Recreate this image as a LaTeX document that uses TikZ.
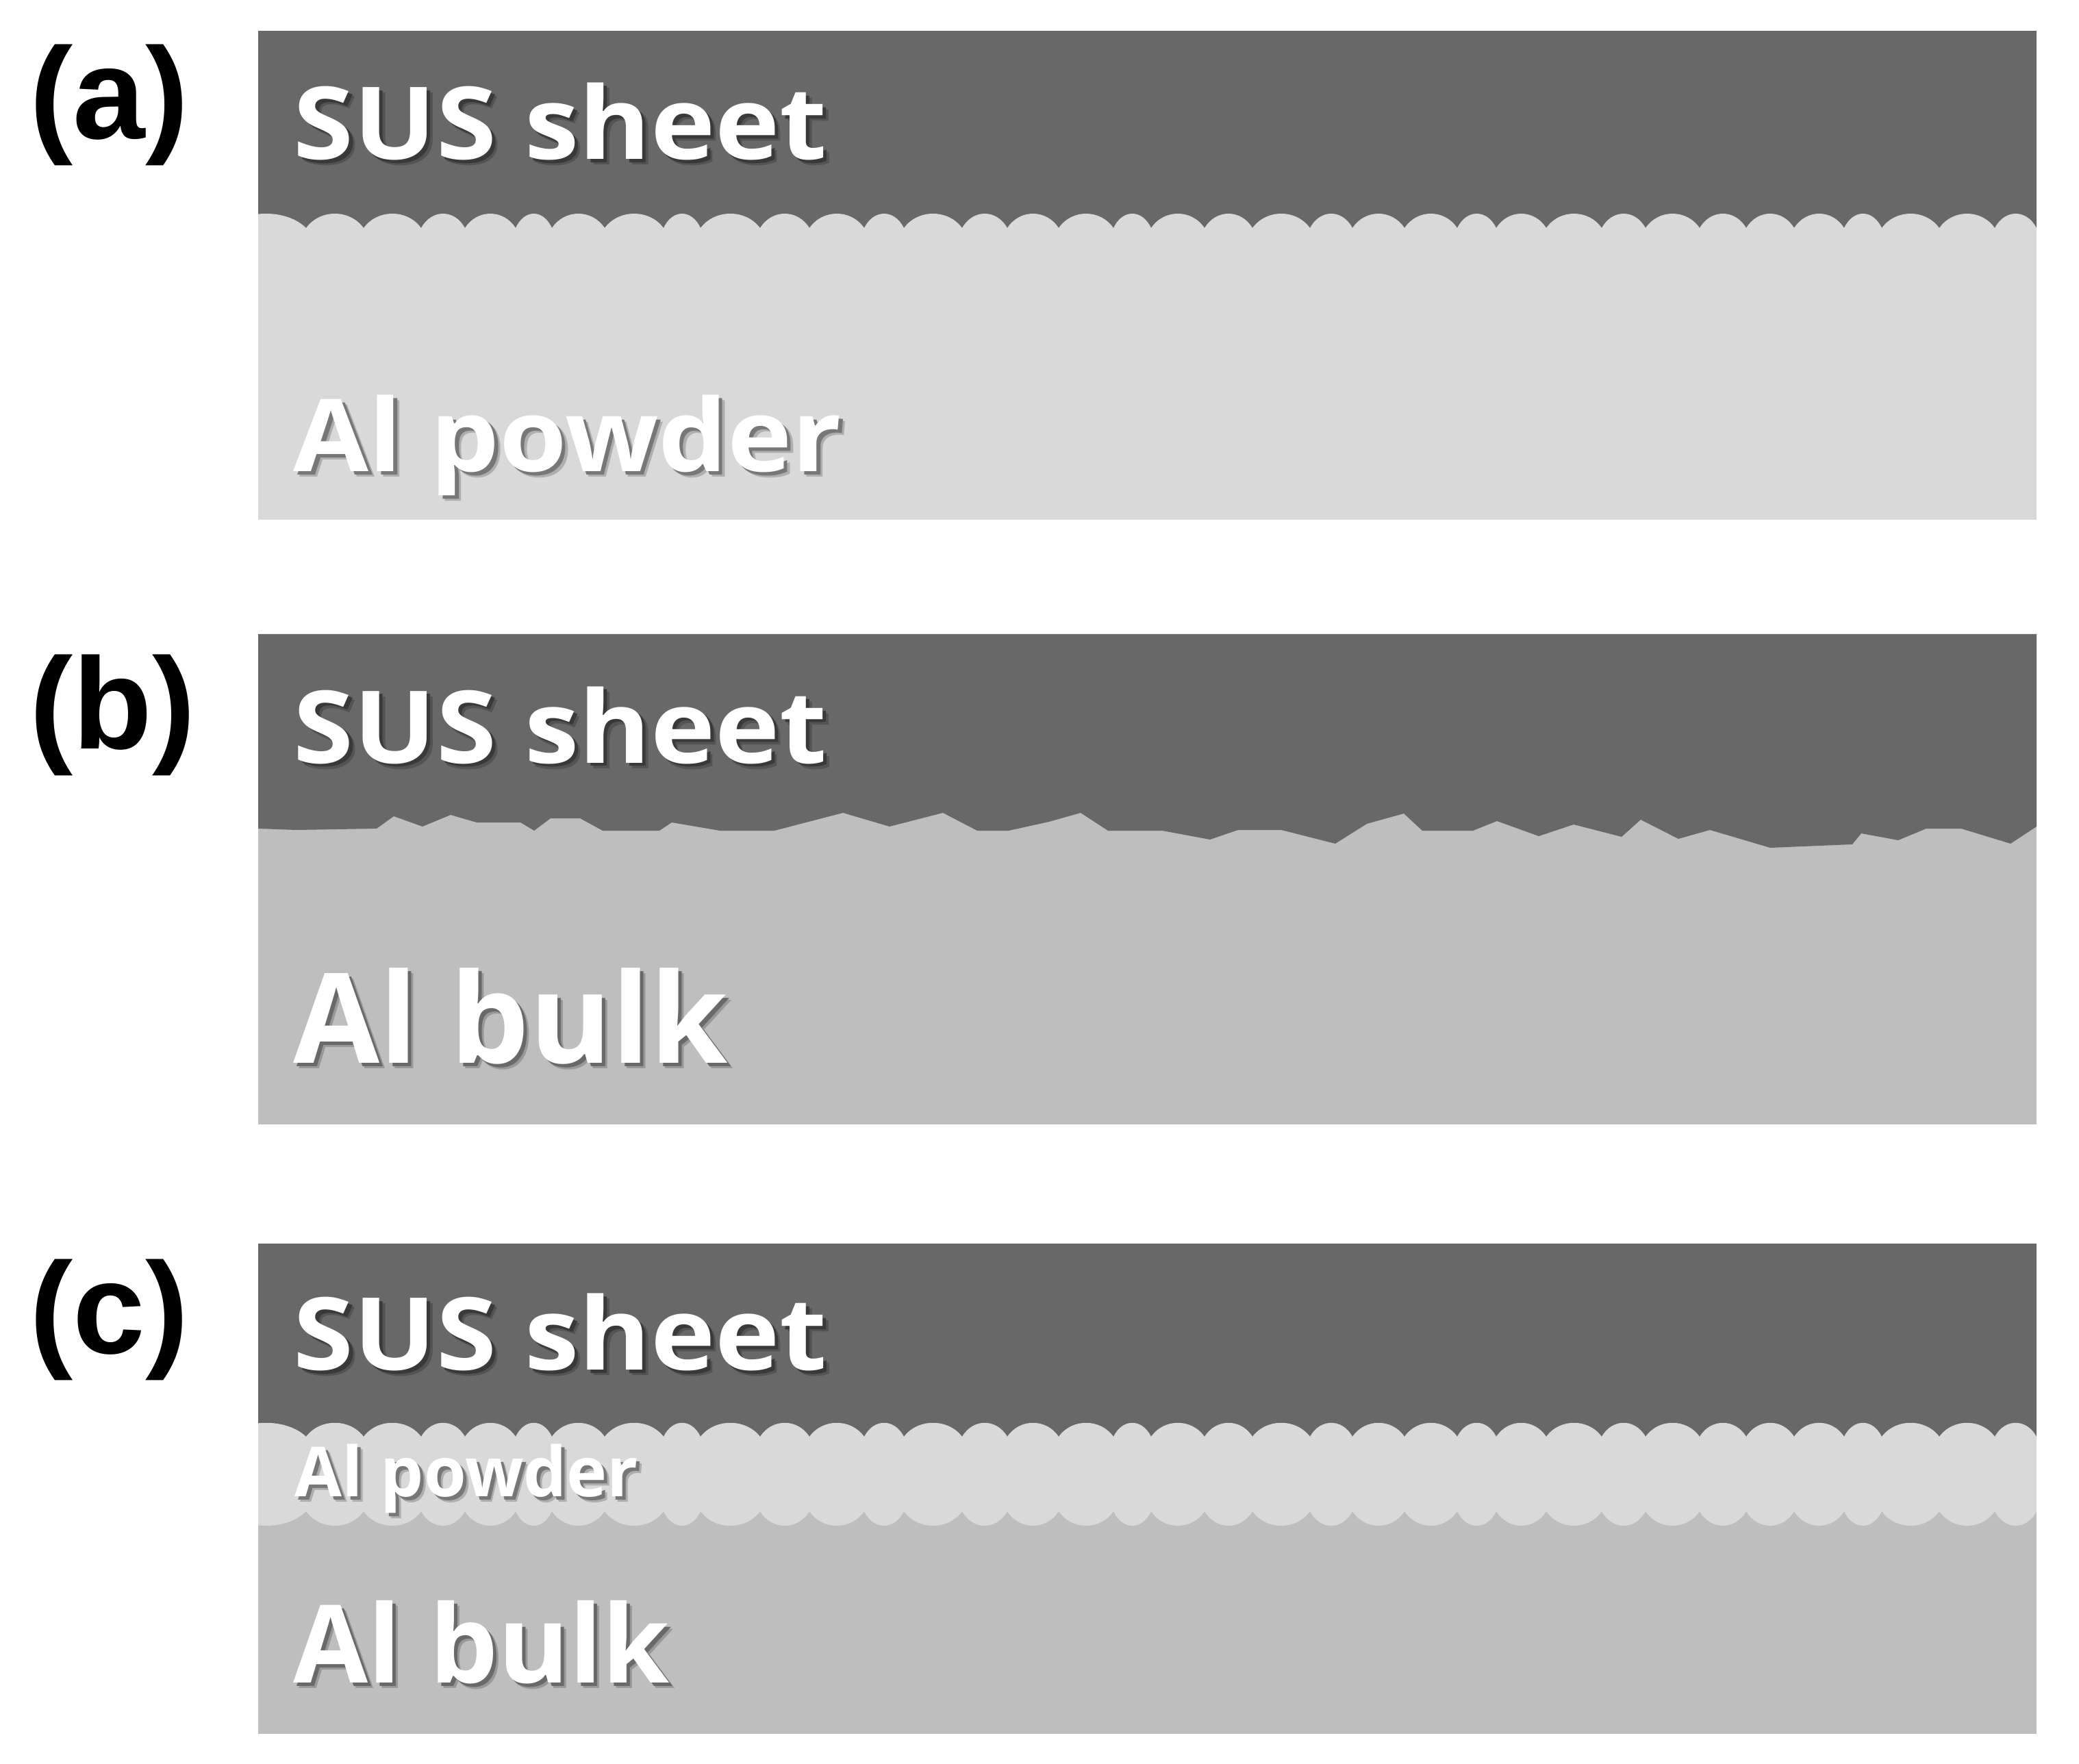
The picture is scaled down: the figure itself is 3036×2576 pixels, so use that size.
\documentclass[tikz,border=0pt]{standalone}
\usepackage{fontspec}
\newfontfamily\layerfont{Open Sans}
\newfontfamily\tagfont{Liberation Sans}

\definecolor{susgray}{HTML}{686868}
\definecolor{powgray}{HTML}{D9D9D9}
\definecolor{bulkgray}{HTML}{BEBEBE}

% cusps between the powder grains (x positions)
\def\grains{330/447, 447/531, 531/615, 615/679, 679/753, 753/806, 806/883,
883/969, 969/1023, 1023/1110, 1110/1182, 1182/1262, 1262/1320, 1320/1405,
1405/1471, 1471/1546, 1546/1626, 1626/1681, 1681/1759, 1759/1829, 1829/1913,
1913/1975, 1975/2051, 2051/2128, 2128/2185, 2185/2258, 2258/2339, 2339/2403,
2403/2482, 2482/2550, 2550/2620, 2620/2693, 2693/2748, 2748/2832, 2832/2913,
2913/2974}

\tikzset{
  tagtxt/.style={anchor=base west, inner sep=0pt,
    font=\tagfont\bfseries\fontsize{54}{60}\selectfont},
  layertxt/.style={anchor=base west, inner sep=0pt, text=white},
}

% soft shadow under white text: background colour, text
\newcommand{\shadowed}[2]{%
  \rlap{\hspace{0.8mm}\raisebox{-0.8mm}{\color{#1!80!black}#2}}%
  \rlap{\hspace{0.5mm}\raisebox{-0.5mm}{\color{#1!55!black}#2}}%
  #2}

% name, x, y, size, xscale, background, text
\newcommand{\layerlabel}[7]{%
  \node[layertxt, font=\layerfont\bfseries\fontsize{#4}{#4}\selectfont]
    (#1) at (#2,#3) {\scalebox{#5}[1]{\shadowed{#6}{#7}}};}

\begin{document}
\begin{tikzpicture}[x=0.1mm, y=-0.1mm]

\useasboundingbox (0,0) rectangle (3036,2576);

%% (a) sheet on powder
\begin{scope}
\clip (377,45) rectangle (2974,759);
\fill[powgray] (377,45) rectangle (2974,759);
\fill[susgray] (377,45) rectangle (2974,333);
\foreach \xa/\xb in \grains{
\fill[powgray] (\xa,333) .. controls +({0.24*(\xb-\xa)},-28) and +({-0.24*(\xb-\xa)},-28) .. (\xb,333) -- cycle;
}
\end{scope}

%% (b) sheet on bulk
\fill[bulkgray] (377,926) rectangle (2974,1642);
\fill[susgray] (377,926) -- (377,1210) -- (433,1212) -- (550,1210) -- (575,1192)
  -- (617,1207) -- (658,1190) -- (696,1201) -- (760,1201) -- (780,1213)
  -- (804,1195) -- (847,1195) -- (880,1213) -- (963,1213) -- (981,1201)
  -- (1051,1213) -- (1131,1213) -- (1231,1187) -- (1299,1207) -- (1377,1187)
  -- (1427,1213) -- (1473,1213) -- (1532,1200) -- (1578,1187) -- (1618,1213)
  -- (1697,1213) -- (1767,1226) -- (1808,1212) -- (1871,1212) -- (1950,1232)
  -- (1996,1203) -- (2050,1188) -- (2077,1213) -- (2151,1213) -- (2186,1199)
  -- (2247,1221) -- (2298,1204) -- (2368,1222) -- (2396,1197) -- (2451,1225)
  -- (2497,1212) -- (2585,1238) -- (2705,1233) -- (2718,1217) -- (2772,1227)
  -- (2813,1210) -- (2864,1210) -- (2936,1232) -- (2974,1207) -- (2974,926) -- cycle;

%% (c) sheet, powder layer, bulk
\begin{scope}
\clip (377,1816) rectangle (2974,2532);
\fill[bulkgray] (377,1816) rectangle (2974,2532);
\fill[susgray] (377,1816) rectangle (2974,2098);
\fill[powgray] (377,2098) rectangle (2974,2207);
\foreach \xa/\xb in \grains{
\fill[powgray] (\xa,2098) .. controls +({0.24*(\xb-\xa)},-27) and +({-0.24*(\xb-\xa)},-27) .. (\xb,2098) -- cycle;
\fill[powgray] (\xa,2207) .. controls +({0.24*(\xb-\xa)},28) and +({-0.24*(\xb-\xa)},28) .. (\xb,2207) -- cycle;
}
\end{scope}

%% labels
\node[tagtxt] (taga) at (43,203) {(a)};
\node[tagtxt] (tagb) at (43,1093) {(b)};
\node[tagtxt] (tagc) at (43,1976) {(c)};

\layerlabel{susa}{428}{233}{41.8}{1.085}{susgray}{SUS sheet}
\layerlabel{powa}{428}{689}{41.8}{1.085}{powgray}{Al powder}
\layerlabel{susb}{428}{1114}{41.8}{1.085}{susgray}{SUS sheet}
\layerlabel{bulkb}{428}{1552}{52}{1}{bulkgray}{Al bulk}
\layerlabel{susc}{428}{2000}{41.8}{1.085}{susgray}{SUS sheet}
\layerlabel{powc}{430}{2185}{28.7}{0.99}{powgray}{Al powder}
\layerlabel{bulkc}{428}{2457}{45}{1}{bulkgray}{Al bulk}

\end{tikzpicture}
\end{document}
